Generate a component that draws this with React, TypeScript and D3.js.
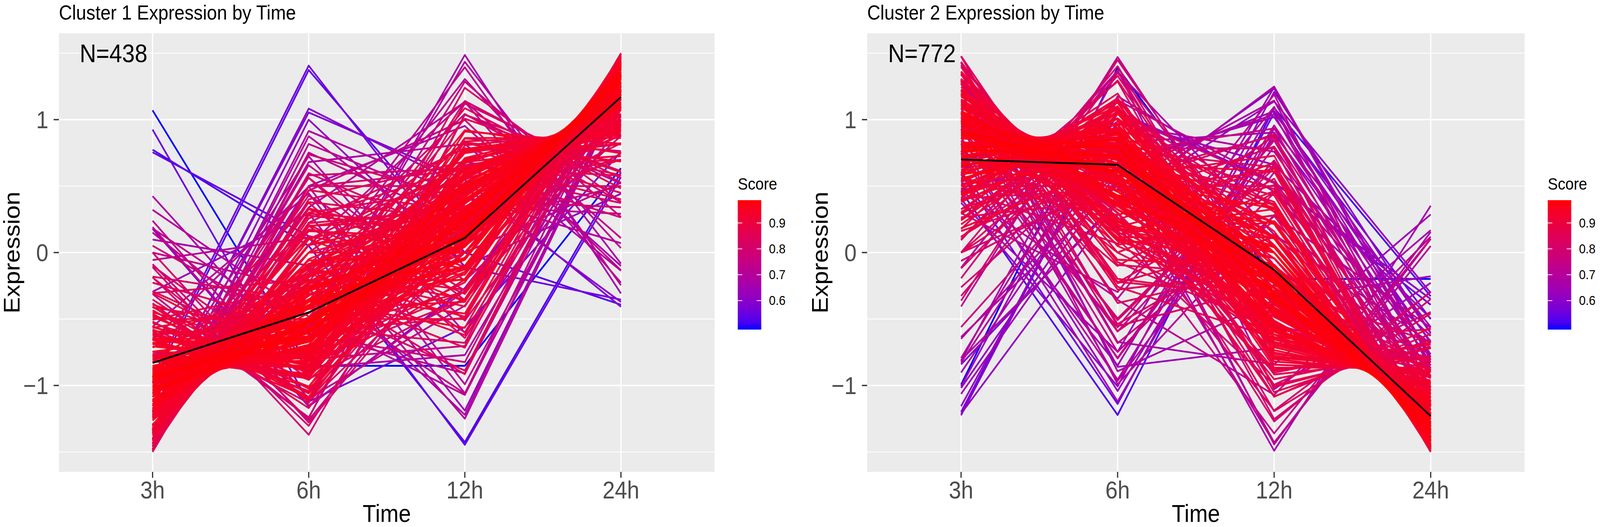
import { useEffect, useRef } from "react";
import * as d3 from "d3";

const WIDTH = 4563;
const HEIGHT = 1348;
const FONT = "'Liberation Sans', Arial, Helvetica, sans-serif";

const times = ["3h", "6h", "12h", "24h"];
const yTicks = [-1, 0, 1];
const yMinorTicks = [-1.5, -0.5, 0.5, 1.5];
const scoreTicks = [0.6, 0.7, 0.8, 0.9];

const titles = ["Cluster 1 Expression by Time", "Cluster 2 Expression by Time"];
const counts = ["N=438", "N=772"];

// cluster 1: expression profiles (3h, 6h, 12h, 24h), standardized per gene before drawing
const profiles1: number[][] = [
  [-1.5, 0.5, 0.5, 0.5], [-1.45, 0.3, 0.2, 0.95], [-1.4, 0.1, 0.4, 0.9], [-1.35, -0.1, 0.3, 1.15],
  [-1.3, 0.35, 0.6, 0.35], [-1.25, -0.3, 0.2, 1.35], [-1.2, -0.6, 0.45, 1.35], [-1.2, 0, 0, 1.2],
  [-1.15, -0.4, 0.15, 1.4], [-1.1, -0.8, 0.4, 1.5], [-1.1, 0.2, -0.3, 1.2], [-1.05, -0.5, 0.5, 1.05],
  [-1, -1, 0.8, 1.2], [-1, -0.3, 0.9, 0.4], [-0.95, -0.2, -0.2, 1.35], [-0.9, -0.7, 0.1, 1.5],
  [-0.9, -0.9, 0.3, 1.5], [-0.85, -0.45, 0.6, 0.7], [-0.8, -0.8, -0.2, 1.8], [-0.8, -1.1, 0.5, 1.4],
  [-0.75, -0.6, -0.1, 1.45], [-0.7, -1.2, 0.6, 1.3], [-0.65, -0.9, 0.1, 1.45], [-0.6, -0.6, -0.3, 1.5],
  [-0.55, -1, 0.3, 1.25], [-0.5, -0.5, -0.5, 1.5], [-0.45, -1.3, 0.5, 1.25], [-0.4, -0.8, -0.3, 1.5],
  [-0.35, -1.1, 0.2, 1.25], [-1.3, -0.7, 0.75, 1.25], [-1.4, -0.5, 0.6, 1.3], [-1.5, -0.2, 0.7, 1],
  [-1.45, 0, 0.85, 0.6], [-1.2, -0.4, 1, 0.6], [-1.1, -0.9, 0.9, 1.1], [-0.9, -1, 1, 0.9],
  [-1, -0.65, 0.25, 1.4], [-0.85, -0.3, 0.35, 0.8], [-1.25, 0.15, 0.1, 1], [-1.35, -0.35, 0.15, 1.55],
  [-0.7, -0.3, -0.45, 1.45], [-0.6, -1.35, 0.35, 1.6], [-1.15, -1, 0.55, 1.6], [-0.95, -0.55, 0.45, 1.05],
  [-1.05, -0.15, 0.4, 0.8], [-1.5, 0.2, 0, 1.3], [-1.48, -0.1, 0.55, 1.03], [-1.42, 0.45, 0.3, 0.67],
  [-1.38, -0.25, 0.35, 1.28], [-1.32, 0.05, 0.6, 0.67], [-1.28, -0.55, 0.3, 1.53], [-1.22, -0.15, 0.75, 0.62],
  [-1.18, -0.75, 0.15, 1.78], [-1.12, -0.35, -0.05, 1.52], [-1.02, -0.85, 0.65, 1.22], [-0.98, 0.1, -0.1, 0.98],
  [-0.88, -0.12, -0.4, 1.4], [-0.82, -0.62, 0.72, 0.72], [-0.78, -1.02, 0.3, 1.5], [-0.72, -0.45, 0.2, 0.97],
  [-0.68, -0.78, -0.04, 1.5], [-0.62, -0.2, -0.6, 1.42], [-0.58, -1.15, 0.1, 1.63], [-0.5, -0.85, 0.05, 1.3],
  [-0.42, -0.6, -0.5, 1.52], [-1.45, -0.6, 0.95, 1.1], [-1.35, -0.85, 0.7, 1.5], [-1.25, -1.05, 0.85, 1.45],
  [-1.15, 0.3, 0.2, 0.65], [-1.05, -1.2, 1.05, 1.2], [-0.92, 0.2, -0.6, 1.32], [-0.8, -0.1, -0.3, 1.2],
  [-0.65, -0.4, -0.35, 1.4], [-1.1, -0.45, -0.25, 1.8], [-1.3, -0.1, -0.2, 1.6],
  [-0.95, -0.52, 0.13, 1.35], [-1.05, -0.4, 0.1, 1.35], [-0.85, -0.65, 0.15, 1.35], [-0.95, -0.35, -0.05, 1.35],
  [-0.95, -0.7, 0.3, 1.35], [-1.1, -0.6, 0.3, 1.4], [-0.8, -0.45, -0.05, 1.3], [-1.2, -0.3, 0.25, 1.25],
  [-0.7, -0.75, 0.2, 1.25], [-1, -0.8, 0.5, 1.3], [-1.3, -0.45, 0.45, 1.3], [-0.6, -0.9, 0, 1.5],
  [-1.4, -0.3, 0.5, 1.2], [-1.25, -0.55, 0.55, 1.25], [-0.75, -0.5, 0.35, 0.9], [-1.15, -0.2, 0.35, 1],
  [-1.05, -0.35, 0.6, 0.8], [-1.35, -0.05, 0.45, 0.95], [-0.65, -1, 0.55, 1.1], [-0.55, -0.75, 0.15, 1.15],
  [-0.9, -0.25, 0.2, 0.95], [-1.45, -0.35, 0.45, 1.35], [-1.5, 0, 0.35, 1.15], [-1.4, 0.2, 0.25, 0.95],
  [-1.25, 0.05, 0.3, 0.9], [-1.1, 0.05, 0.15, 0.9], [-1, -0.05, 0, 1.05], [-0.85, -0.2, 0.05, 1],
  [-0.75, -0.3, 0.1, 0.95], [-1.2, -0.9, 0.65, 1.45], [-0.95, -1.05, 0.55, 1.45], [-0.85, -0.85, 0.45, 1.25],
  [-0.8, -0.6, 0.5, 0.9], [-1.15, -0.7, 0.65, 1.2], [-1.3, -0.6, 0.85, 1.05], [-1, -0.45, 0.8, 0.65],
  [-1.35, -0.3, 0.8, 0.85], [-0.7, -0.85, 0.75, 0.8], [-0.6, -1.1, 0.7, 1], [-0.5, -1.2, 0.4, 1.3],
  [-0.4, -1, 0.1, 1.3], [-0.3, -0.9, -0.2, 1.4], [-0.55, -0.35, -0.55, 1.45], [-0.75, -0.15, -0.45, 1.35],
  [-1, 0.1, -0.35, 1.25], [-1.2, 0.3, -0.1, 1], [-1.45, 0.35, 0.05, 1.05], [-1.38, 0.28, 0.45, 0.65],
  [-1.3, 0.2, 0.7, 0.4], [-0.9, -0.4, -0.1, 1.4], [-1, -0.55, 0.05, 1.5], [-1.1, -0.25, 0.05, 1.3],
  [-0.65, -0.55, 0.05, 1.15], [-0.7, -0.65, -0.15, 1.5], [-1.25, -0.75, 0.35, 1.65], [-1.2, -0.15, 0.45, 0.9],
  [-0.95, -0.75, 0.75, 0.95], [-0.8, -0.95, 0.25, 1.5], [-1.5, -0.45, 0.85, 1.1], [-1.45, 0.1, 0.65, 0.7],
  [-1.45, -1, 0.7, 1.75], [-1.45, -0.7, 0.5, 1.65], [-1.45, -0.4, 0.4, 1.45], [-1.45, -0.1, 0.3, 1.25],
  [-1.45, 0.2, 0.35, 0.9], [-1.3, -1, 0.6, 1.7], [-1.3, -0.7, 0.4, 1.6], [-1.3, -0.4, 0.3, 1.4],
  [-1.3, -0.1, 0.45, 0.95], [-1.3, 0.2, 0.3, 0.8], [-1.15, -1, 0.75, 1.4], [-1.15, -0.7, 0.2, 1.65],
  [-1.15, -0.4, 0.55, 1], [-1.15, -0.1, 0.1, 1.15], [-1.15, 0.2, 0.5, 0.45], [-1, -1, 0.4, 1.6],
  [-1, -0.7, 0.6, 1.1], [-1, -0.4, 0.1, 1.3], [-1, -0.1, 0.5, 0.6], [-1, 0.2, 0.1, 0.7],
  [-0.85, -1, 0.65, 1.2], [-0.85, -0.7, 0.3, 1.25], [-0.85, -0.4, -0.1, 1.35], [-0.85, -0.1, 0.35, 0.6],
  [-0.7, -1, 0.2, 1.5], [-0.7, -0.7, 0.55, 0.85], [-0.7, -0.4, 0, 1.1], [-0.7, -0.1, -0.2, 1],
  [-0.55, -1, 0.45, 1.1], [-0.55, -0.7, -0.1, 1.35], [-0.55, -0.4, 0.2, 0.75], [-0.4, -1, 0.25, 1.15],
  [-0.4, -0.7, -0.2, 1.3], [-0.4, -0.4, 0.1, 0.7], [-1.38, -0.55, 0.2, 1.73], [-1.22, -0.85, 0.5, 1.57],
  [-1.08, -0.55, 0.35, 1.28], [-0.92, -0.55, 0.25, 1.22], [-0.78, -0.25, 0.15, 0.88], [-1.22, -0.25, 0.6, 0.87],
  [-1.08, -0.85, 0.8, 1.13], [-0.92, -0.85, 0.6, 1.17], [-0.62, -0.85, 0.35, 1.12], [-1.38, -0.25, 0.65, 0.98],
  [-1.5, -0.3, 0.25, 1.55], [-1.2, -0.5, -0.05, 1.75], [-0.95, -0.6, -0.15, 1.7], [-0.75, -0.9, 0.05, 1.6],
  [-1.05, -0.75, 0.2, 1.6], [-1.35, -0.2, 0.05, 1.5],
  [-0.25, -0.7, -0.3, 1.25], [-0.15, -0.9, 0, 1.05], [-0.2, -0.5, -0.6, 1.3], [0, -1.1, 0.1, 1],
  [-1.2, 0.4, 0.5, 0.3], [-1, 0.35, 0.75, -0.1], [-1.4, 0.55, 0.6, 0.25], [-0.6, -0.1, 0.85, -0.15],
  [-0.8, -0.9, 1.3, 0.4], [-0.55, -1.2, 1.1, 0.65], [-1.3, 0.65, 0.35, 0.3], [-0.1, -1.25, 0.6, 0.75],
  [-0.3, -0.2, -0.9, 1.4], [-0.9, 0.35, -0.6, 1.15], [-1.2, 0.55, -0.35, 1],
  [-0.2, -1.4, 0.5, 1.1], [-0.1, -1.44, 0.2, 1.34], [0.2, -1.2, -0.3, 1.3], [0.44, -0.9, -0.8, 1.26],
  [0.24, -1.1, -0.4, 1.26], [0.15, -0.8, -0.7, 1.35], [-0.1, -0.95, -0.35, 1.4], [-0.6, -0.55, 1.45, -0.3],
  [-0.75, -0.55, 1.38, -0.08], [-0.9, -0.55, 1.2, 0.25], [-1, -0.2, 1.17, 0.03], [-1.2, 0.05, 1.05, 0.1],
  [-1.35, 0.5, 0.95, -0.1], [-1.2, 0.75, 0, 0.45], [-1.3, 0.97, -0.1, 0.43], [-1.25, 0.7, 0.3, 0.25],
  [-1, 0.5, 0.6, -0.1], [-1.1, 0.3, 1, -0.2], [0.1, -0.1, -1.25, 1.25], [-0.3, 0.3, -1.21, 1.21],
  [-0.2, -0.4, -0.98, 1.58], [-0.6, -0.3, -0.85, 1.75], [-1.4, -0.1, 1.1, 0.4], [-1.1, -0.8, 1.3, 0.6],
  [-0.8, -1, 1.2, 0.6], [-0.4, -1.3, 0.9, 0.8], [0.05, -0.6, -0.8, 1.35], [0.3, -0.45, -1, 1.15],
  [-0.5, 0.4, -0.95, 1.05], [-1.3, 0.45, -0.3, 1.15], [-0.9, 0.6, -0.5, 0.8], [-1.45, 0.6, 0.1, 0.75],
  [-0.3, -1.2, 1, 0.5], [-0.9, -1.1, 0.8, 1.2],
  [1.13, -0.9, -0.9, 0.67], [0.99, -1.2, -0.6, 0.81], [0.77, 0.05, -1.42, 0.6], [0.73, 0.12, -1.4, 0.55],
  [-0.95, 1.33, 0, -0.38], [-0.85, 1.27, -0.1, -0.32], [-1.2, 1.06, 0.55, -0.41], [-1.1, 0.99, 0.45, -0.34],
  [0.2, -1.3, -0.3, 1.4],
  [-1.25, 0.62, -0.2, 0.83], [-1.4, 0.72, 0.2, 0.48], [-1.1, 0.55, -0.5, 1.05], [-0.6, 0.45, -0.9, 1.05],
  [0, -0.25, -0.95, 1.2], [0.18, -0.6, -0.9, 1.32], [-0.05, 0.1, -1.1, 1.05], [-1, 0.65, 0.3, 0.05],
];

const scores1: number[] = [
  0.82, 0.87, 0.9, 0.94, 0.84, 0.97, 0.985, 0.93, 0.975, 0.97, 0.88, 0.97,
  0.93, 0.85, 0.93, 0.97, 0.95, 0.95, 0.92, 0.93, 0.94, 0.9, 0.93, 0.91,
  0.9, 0.88, 0.86, 0.88, 0.86, 0.96, 0.96, 0.92, 0.86, 0.87, 0.93, 0.9,
  0.988, 0.96, 0.9, 0.96, 0.9, 0.88, 0.95, 0.98, 0.93, 0.89, 0.93, 0.85,
  0.95, 0.89, 0.97, 0.9, 0.97, 0.95, 0.96, 0.88, 0.89, 0.93, 0.94, 0.97,
  0.94, 0.86, 0.9, 0.91, 0.87, 0.92, 0.95, 0.92, 0.86, 0.88, 0.84, 0.9,
  0.92, 0.95, 0.92,
  0.985, 0.98, 0.975, 0.97, 0.975, 0.97, 0.96, 0.96, 0.95, 0.96, 0.95, 0.93,
  0.93, 0.96, 0.95, 0.94, 0.92, 0.92, 0.93, 0.95, 0.95, 0.93, 0.9, 0.9,
  0.91, 0.93, 0.95, 0.95, 0.94, 0.93, 0.92, 0.95, 0.94, 0.92, 0.9, 0.93,
  0.89, 0.9, 0.9, 0.93, 0.92, 0.9, 0.91, 0.92, 0.92, 0.9, 0.89, 0.85,
  0.84, 0.97, 0.97, 0.96, 0.96, 0.95, 0.93, 0.93, 0.92, 0.95, 0.88, 0.87,
  0.9, 0.93, 0.95, 0.93, 0.87, 0.9, 0.94, 0.96, 0.91, 0.87,
  0.91, 0.95, 0.94, 0.93, 0.85, 0.93, 0.96, 0.95, 0.88, 0.87,
  0.93, 0.97, 0.92, 0.86, 0.91, 0.92, 0.93, 0.88, 0.9, 0.92,
  0.9, 0.88, 0.89, 0.86, 0.96, 0.95, 0.97, 0.97, 0.9, 0.92,
  0.93, 0.93, 0.91, 0.91, 0.91, 0.94, 0.92, 0.91, 0.95, 0.93,
  0.84, 0.82, 0.83, 0.8, 0.8, 0.74, 0.8, 0.72, 0.82, 0.82, 0.78, 0.8, 0.82, 0.82, 0.8,
  0.8, 0.78, 0.72, 0.68, 0.72, 0.74, 0.8, 0.66,
  0.68, 0.75, 0.72, 0.74, 0.66, 0.7, 0.62, 0.72,
  0.68, 0.7, 0.66, 0.64, 0.82, 0.86, 0.78, 0.8,
  0.8, 0.78, 0.78, 0.7, 0.7, 0.78, 0.68, 0.8,
  0.72, 0.84,
  0.488, 0.55, 0.52, 0.54, 0.53, 0.56, 0.58, 0.6, 0.58,
  0.76, 0.72, 0.78, 0.7, 0.74, 0.72, 0.7, 0.68,
];

const centroid1 = [-0.83, -0.45, 0.11, 1.17];

// cluster 2
const profiles2: number[][] = [
  [0.5, 0.5, 0.5, -1.5], [1.45, 0.2, -0.5, -1.15], [1.4, 0.4, -0.6, -1.2], [1.5, 0.1, -0.3, -1.3],
  [1.45, -0.1, -0.2, -1.15], [1.35, 0.6, -0.75, -1.2], [1.3, 0.85, -0.9, -1.25], [1.2, 1, -0.8, -1.4],
  [1.1, 1.1, -1.1, -1.1], [1, 1.2, -0.7, -1.5], [0.9, 1.3, -0.6, -1.6], [0.7, 1.4, -0.5, -1.6],
  [0.5, 1.45, -0.7, -1.25], [0.3, 1, -0.1, -1.2], [0.1, 0.8, 0.3, -1.2], [0, 0.6, 0.5, -1.1],
  [0.2, 0.3, 0.6, -1.1], [0.4, 0.2, 0.45, -1.05], [0.6, 0, 0.3, -0.9], [0.8, 0.3, 0, -1.1],
  [0.9, 0.6, -0.2, -1.3], [0.75, 0.75, -0.3, -1.2], [0.6, 0.9, -0.35, -1.15], [1, 0.4, -0.2, -1.2],
  [1.1, 0.7, -0.5, -1.3], [0.5, 0.65, 0, -1.15], [0.95, 0.1, 0.1, -1.15], [0.3, 0.55, 0.25, -1.1],
  [1.25, 0.25, -0.1, -1.4], [0.8, 1, -0.4, -1.4], [0.65, 0.45, -0.1, -1], [1.15, 0.5, -0.25, -1.4],
  [0.4, 1.2, -0.4, -1.2], [1.3, 0, -0.55, -0.75], [1.2, 0.55, -1, -0.75], [1, 0.8, -1.15, -0.65],
  [0.8, 0.9, -1, -0.7], [0.6, 0.7, -0.8, -0.5], [1.4, 0.7, -0.95, -1.15], [1, 1.05, -0.55, -1.5],
  [0.2, 0.9, 0, -1.1], [-0.05, 0.45, 0.7, -1.1], [0.35, 0.05, 0.65, -1.05], [0.7, -0.15, 0.3, -0.85],
  [1.1, -0.2, 0.1, -1], [0.55, 1.15, -0.2, -1.5], [0.85, 0.2, -0.6, -0.45], [1.5, 0.3, -0.8, -1],
  [1.25, 0.95, -0.7, -1.5], [0.15, 1.1, -0.35, -0.9], [0.45, 0.35, 0.15, -0.95], [1.05, 0.55, 0.05, -1.65],
  [0.6, 0.25, -0.45, -0.4], [0.95, 0.85, -0.6, -1.2], [0.55, 0.8, 0.05, -1.4], [1.2, 0.2, -0.45, -0.95],
  [0.35, 0.7, -0.15, -0.9], [0.75, 0.4, 0.2, -1.35], [1.3, 0.45, -0.35, -1.4], [0.45, 0.95, -0.55, -0.85],
  [1, -0.05, -0.4, -0.55], [0.85, 1.2, -0.9, -1.15], [0.1, 0.35, 0.45, -0.9], [0.65, 0.1, -0.15, -0.6],
  [0.77, 0.73, -0.14, -1.36], [0.9, 0.65, -0.2, -1.35], [0.65, 0.85, -0.15, -1.35], [0.8, 0.6, 0, -1.4],
  [0.75, 0.85, -0.35, -1.25], [1, 0.6, -0.3, -1.3], [0.55, 0.9, -0.1, -1.35], [1.1, 0.45, -0.2, -1.35],
  [0.6, 0.6, 0.1, -1.3], [0.95, 0.95, -0.5, -1.4], [1.2, 0.75, -0.55, -1.4], [0.45, 1.05, -0.2, -1.3],
  [1.3, 0.35, -0.4, -1.25], [0.35, 0.85, 0.1, -1.3], [1.15, 0.95, -0.7, -1.4], [0.85, 1.1, -0.6, -1.35],
  [0.7, 1.2, -0.45, -1.45], [1.25, 0.6, -0.65, -1.2], [1.4, 0.5, -0.5, -1.4], [1.45, 0.3, -0.4, -1.35],
  [1.35, 0.2, -0.2, -1.35], [1.25, 0.1, -0.1, -1.25], [1.1, 0.2, 0, -1.3], [0.95, 0.35, 0.05, -1.35],
  [1.5, 0.45, -0.65, -1.3], [1.45, 0.65, -0.85, -1.25], [1.35, 0.85, -1, -1.2], [1.2, 0.9, -1, -1.1],
  [1.05, 1, -0.95, -1.1], [0.9, 1.15, -0.85, -1.2], [0.65, 1.3, -0.55, -1.4], [0.5, 1.25, -0.35, -1.4],
  [0.25, 1.15, -0.15, -1.25], [0.2, 0.95, 0.15, -1.3], [0.4, 0.75, 0.2, -1.35], [0.55, 0.5, 0.3, -1.35],
  [0.7, 0.35, 0.35, -1.4], [0.85, 0.15, 0.3, -1.3], [0.6, 0.35, 0, -0.95], [0.8, 0.55, -0.35, -1],
  [1, 0.75, -0.75, -1], [1.15, 0.55, -0.8, -0.9], [0.95, 0.5, -0.6, -0.85], [0.7, 0.75, -0.55, -0.9],
  [0.5, 0.95, -0.6, -0.85], [1.3, 0.65, -0.3, -1.65], [1, 0.85, -0.25, -1.6], [0.75, 1, -0.2, -1.55],
  [0.45, 0.65, 0.2, -1.3], [1.2, 0.4, -0.05, -1.55], [0.3, 0.7, 0.35, -1.35], [0.15, 0.55, 0.5, -1.2],
  [0.45, 0.2, 0.55, -1.2], [0.9, 0.05, 0.2, -1.15], [1.2, -0.05, -0.1, -1.05], [1.4, 0.05, -0.45, -1],
  [1.45, 0.15, -0.7, -0.9], [1.3, 0.3, -0.9, -0.7], [1.05, 0.55, -1.05, -0.55], [0.85, 0.7, -0.9, -0.65],
  [1.45, 1, -0.7, -1.75], [1.45, 0.7, -0.5, -1.65], [1.45, 0.4, -0.4, -1.45], [1.45, 0.1, -0.3, -1.25],
  [1.45, -0.2, -0.35, -0.9], [1.3, 1, -0.6, -1.7], [1.3, 0.7, -0.4, -1.6], [1.3, 0.4, -0.3, -1.4],
  [1.3, 0.1, -0.45, -0.95], [1.3, -0.2, -0.3, -0.8], [1.15, 1, -0.75, -1.4], [1.15, 0.7, -0.2, -1.65],
  [1.15, 0.4, -0.55, -1], [1.15, 0.1, -0.1, -1.15], [1.15, -0.2, -0.5, -0.45], [1, 1, -0.4, -1.6],
  [1, 0.7, -0.6, -1.1], [1, 0.4, -0.1, -1.3], [1, 0.1, -0.5, -0.6], [1, -0.2, -0.1, -0.7],
  [0.85, 1, -0.65, -1.2], [0.85, 0.7, -0.3, -1.25], [0.85, 0.4, 0.1, -1.35], [0.85, 0.1, -0.35, -0.6],
  [0.7, 1, -0.2, -1.5], [0.7, 0.7, -0.55, -0.85], [0.7, 0.4, 0, -1.1], [0.7, 0.1, 0.2, -1],
  [0.55, 1, -0.45, -1.1], [0.55, 0.7, 0.1, -1.35], [0.55, 0.4, -0.2, -0.75], [0.4, 1, -0.25, -1.15],
  [0.4, 0.7, 0.2, -1.3], [0.4, 0.4, -0.1, -0.7], [0.25, 0.85, 0.1, -1.2], [0.25, 0.6, 0.35, -1.2],
  [0.1, 0.7, 0.4, -1.2], [0.1, 1, 0.05, -1.15], [1.38, 0.55, -0.2, -1.73], [1.22, 0.85, -0.5, -1.57],
  [1.08, 0.55, -0.35, -1.28], [0.92, 0.55, -0.25, -1.22], [0.78, 0.25, -0.15, -0.88], [1.22, 0.25, -0.6, -0.87],
  [1.08, 0.85, -0.8, -1.13], [0.92, 0.85, -0.6, -1.17], [0.62, 0.85, -0.35, -1.12], [1.38, 0.25, -0.65, -0.98],
  [1.5, 0.3, -0.25, -1.55], [1.2, 0.5, 0.05, -1.75], [0.95, 0.6, 0.15, -1.7], [0.75, 0.9, -0.05, -1.6],
  [1.05, 0.75, -0.2, -1.6], [1.35, 0.2, -0.05, -1.5], [0.3, 0.35, 0.45, -1.1], [0.6, 0.15, 0.4, -1.15],
  [0, 0.85, 0.25, -1.1], [0.45, 1.2, -0.5, -1.15], [0.95, 1.1, -1, -1.05], [1.25, 0.8, -1.1, -0.95],
  [0.25, 0.6, -0.25, -0.6], [-0.1, 0.9, 0.3, -1.1], [0, 0.4, 0.7, -1.1], [-0.2, 0.6, 0.6, -1],
  [1.1, -0.5, 0.2, -0.8], [1.3, -0.35, -0.1, -0.85], [0.8, -0.4, 0.5, -0.9], [0.6, -0.55, 0.6, -0.65],
  [1, 0.6, -1.3, -0.3], [0.7, 0.9, -1.25, -0.35], [1.35, 0.1, -1, -0.45], [-0.3, 1.2, -0.2, -0.7],
  [0.1, 1.35, -0.4, -1.05], [0.9, -0.1, 0.55, -1.35], [-0.25, 0.8, 0.4, -0.95],
  [-0.6, 0.7, 0.55, -0.65], [-0.77, 0.9, 0.35, -0.48], [-0.4, 1.45, -0.3, -0.75], [0.1, 1.47, -0.6, -0.97],
  [-0.2, 1.4, -0.1, -1.1], [0.6, -0.9, 0.75, -0.45], [0.9, -0.8, 0.5, -0.6], [1, -0.6, 0.7, -1.1],
  [0.5, -0.7, 0.9, -0.7], [0.3, -0.6, 1, -0.7], [0.4, -0.3, 0.95, -1.05], [-0.5, 0.4, 0.9, -0.8],
  [0.65, 0.75, -1.45, 0.05], [0.5, 0.6, -1.44, 0.34], [0.8, 0.5, -1.4, 0.1], [1, 0.2, -1.3, 0.1],
  [1.2, 0.3, -1.2, -0.3], [0.9, 0.9, -1.3, -0.5], [1.1, -0.3, -0.9, 0.1], [0.4, 0.7, -1.2, 0.14],
  [-0.6, 1, 0.1, -0.5], [-0.3, 0.4, 0.5, -0.6], [-0.45, 0.3, 0.45, -0.3], [0.2, -0.5, 0.6, -0.3],
  [1.2, -0.75, -0.3, -0.15], [0.95, -0.5, 0.2, -0.65], [0.15, -0.15, 0.6, -0.6], [0.8, -0.4, -0.5, 0.1],
  [0.3, 1.3, -0.8, -0.8], [-0.1, 1.2, -0.9, -0.2], [0, 1.3, -0.5, -0.8], [-0.5, 0.5, 0.8, -0.8],
  [-0.7, 0.6, 0.3, -0.2], [-0.35, 0.3, 0.2, -0.15],
  [-1, 1.4, -0.2, -0.2], [0.45, -1.19, 1.06, -0.32], [0.6, -1.16, 1.07, -0.51], [-1.13, 1, 0.5, -0.37],
  [-0.75, 0.35, 1.1, -0.7],
  [-0.55, 0.25, 0.85, -0.55], [-0.7, 0.4, 0.7, -0.4], [0.55, -0.7, 0.6, -0.45], [-0.6, 0.55, 0.6, -0.55],
  [0.9, -0.6, -0.5, 0.2], [-0.45, 0.65, 0.3, -0.5], [-0.8, 0.25, 0.75, -0.2],
  [0.8, -0.5, 0.3, -0.6], [0.6, -0.3, 0.4, -0.7], [1, -0.4, 0.1, -0.7], [0.4, -0.5, 0.5, -0.4],
  [0.9, -0.7, 0.2, -0.4], [0.3, -0.2, 0.3, -0.4], [1.2, -0.45, -0.2, -0.55], [0.7, -0.6, 0.6, -0.7],
];

const scores2: number[] = [
  0.82, 0.9, 0.93, 0.9, 0.87, 0.92, 0.93, 0.95, 0.9, 0.95, 0.94, 0.91,
  0.86, 0.91, 0.87, 0.84, 0.83, 0.86, 0.88, 0.96, 0.988, 0.985, 0.96, 0.97,
  0.975, 0.95, 0.93, 0.9, 0.95, 0.97, 0.98, 0.97, 0.9, 0.84, 0.86, 0.84,
  0.86, 0.84, 0.9, 0.95, 0.88, 0.8, 0.82, 0.85, 0.87, 0.94, 0.85, 0.88,
  0.94, 0.84, 0.93, 0.96, 0.87, 0.98, 0.96, 0.92, 0.94, 0.96, 0.95, 0.92,
  0.84, 0.92, 0.86, 0.92,
  0.985, 0.98, 0.98, 0.975, 0.975, 0.97, 0.97, 0.97, 0.96, 0.96, 0.95, 0.95,
  0.94, 0.93, 0.94, 0.95, 0.93, 0.94, 0.92, 0.91, 0.92, 0.92, 0.94, 0.95,
  0.9, 0.91, 0.92, 0.92, 0.93, 0.93, 0.93, 0.92, 0.9, 0.91, 0.94, 0.95,
  0.94, 0.92, 0.95, 0.96, 0.94, 0.92, 0.94, 0.95, 0.92, 0.94, 0.95, 0.93,
  0.91, 0.89, 0.88, 0.92, 0.88, 0.9, 0.92, 0.92, 0.9, 0.88, 0.87, 0.86,
  0.9, 0.93, 0.95, 0.92, 0.86, 0.91, 0.94, 0.96, 0.9, 0.86,
  0.92, 0.95, 0.94, 0.93, 0.84, 0.93, 0.96, 0.96, 0.87, 0.86,
  0.94, 0.97, 0.93, 0.86, 0.91, 0.93, 0.94, 0.89, 0.91, 0.93,
  0.9, 0.9, 0.9, 0.87, 0.89, 0.87, 0.86, 0.87, 0.95, 0.95,
  0.97, 0.97, 0.91, 0.9, 0.93, 0.94, 0.92, 0.9, 0.9, 0.93,
  0.93, 0.92, 0.95, 0.92, 0.85, 0.86, 0.84, 0.88, 0.88, 0.86,
  0.84, 0.82, 0.8, 0.78, 0.8, 0.84, 0.8, 0.74, 0.8, 0.8, 0.8, 0.8, 0.82, 0.86, 0.78,
  0.7, 0.65, 0.72, 0.75, 0.78, 0.66, 0.7, 0.74,
  0.65, 0.64, 0.7, 0.68, 0.7, 0.66, 0.72, 0.74,
  0.8, 0.82, 0.72, 0.68, 0.66, 0.76, 0.62, 0.62,
  0.66, 0.76, 0.72, 0.66, 0.82, 0.66, 0.8, 0.7,
  0.6, 0.62,
  0.488, 0.52, 0.55, 0.56, 0.58,
  0.68, 0.64, 0.62, 0.66, 0.64, 0.7, 0.62,
  0.74, 0.78, 0.8, 0.7, 0.7, 0.76, 0.8, 0.72,
];

const centroid2 = [0.7, 0.66, -0.13, -1.23];

const panels = [
  { x0: 168, x1: 2038, title: titles[0], count: counts[0], profiles: profiles1, scores: scores1, centroid: centroid1 },
  { x0: 2473, x1: 4348, title: titles[1], count: counts[1], profiles: profiles2, scores: scores2, centroid: centroid2 },
];

const PANEL_TOP = 85;
const PANEL_BOTTOM = 1207;
const BAR_TOP = 512;
const BAR_BOTTOM = 843;

function standardize(v: number[]): number[] {
  const m = d3.mean(v) ?? 0;
  const sd = d3.deviation(v) ?? 1;
  return v.map((x) => (x - m) / sd);
}

export default function App() {
  const svgRef = useRef<SVGSVGElement>(null);

  useEffect(() => {
    document.body.style.margin = "0";
    const svg = d3.select(svgRef.current);
    svg.selectAll("*").remove();

    svg.append("rect").attr("width", WIDTH).attr("height", HEIGHT).attr("fill", "#ffffff");
    const defs = svg.append("defs");

    const yScale = d3.scaleLinear().domain([-1.65, 1.65]).range([PANEL_BOTTOM, PANEL_TOP]);

    panels.forEach((p, pi) => {
      const xScale = d3.scalePoint<string>().domain(times).range([p.x0, p.x1]).padding(0.6);
      const step = xScale.step();
      const extent = d3.extent(p.scores) as [number, number];
      const color = d3.scaleLinear<string>().domain(extent).range(["blue", "red"]).interpolate(d3.interpolateLab);

      const g = svg.append("g");

      // panel background and grid
      g.append("rect")
        .attr("x", p.x0).attr("y", PANEL_TOP)
        .attr("width", p.x1 - p.x0).attr("height", PANEL_BOTTOM - PANEL_TOP)
        .attr("fill", "#EBEBEB");

      yMinorTicks.forEach((t) => {
        g.append("line")
          .attr("x1", p.x0).attr("x2", p.x1)
          .attr("y1", yScale(t)).attr("y2", yScale(t))
          .attr("stroke", "#ffffff").attr("stroke-width", 2.2);
      });
      yTicks.forEach((t) => {
        g.append("line")
          .attr("x1", p.x0).attr("x2", p.x1)
          .attr("y1", yScale(t)).attr("y2", yScale(t))
          .attr("stroke", "#ffffff").attr("stroke-width", 3.6);
      });
      times.forEach((t) => {
        g.append("line")
          .attr("x1", xScale(t)!).attr("x2", xScale(t)!)
          .attr("y1", PANEL_TOP).attr("y2", PANEL_BOTTOM)
          .attr("stroke", "#ffffff").attr("stroke-width", 3.6);
      });

      // gene lines, low score first so the red ones sit on top
      const line = d3.line<number>()
        .x((_, i) => xScale(times[i])!)
        .y((v) => yScale(v));

      const order = d3.range(Math.min(p.profiles.length, p.scores.length))
        .sort((a, b) => p.scores[a] - p.scores[b]);
      order.forEach((i) => {
        g.append("path")
          .attr("d", line(standardize(p.profiles[i])))
          .attr("fill", "none")
          .attr("stroke", color(p.scores[i]))
          .attr("stroke-width", 4.6)
          .attr("stroke-linejoin", "round");
      });

      g.append("path")
        .attr("d", line(p.centroid))
        .attr("fill", "none")
        .attr("stroke", "#000000")
        .attr("stroke-width", 4.6)
        .attr("stroke-linejoin", "round");

      // N label
      g.append("text")
        .attr("x", xScale(times[0])! - 0.25 * step)
        .attr("y", yScale(1.5))
        .attr("text-anchor", "middle")
        .attr("dominant-baseline", "central")
        .attr("font-family", FONT)
        .attr("font-size", 65)
        .attr("fill", "#000000")
        .text(p.count);

      // axes
      yTicks.forEach((t) => {
        g.append("line")
          .attr("x1", p.x0 - 15).attr("x2", p.x0)
          .attr("y1", yScale(t)).attr("y2", yScale(t))
          .attr("stroke", "#333333").attr("stroke-width", 3.4);
        g.append("text")
          .attr("x", p.x0 - 30)
          .attr("y", yScale(t))
          .attr("text-anchor", "end")
          .attr("dominant-baseline", "central")
          .attr("font-family", FONT)
          .attr("font-size", 63)
          .attr("fill", "#4D4D4D")
          .text(t < 0 ? `\u2212${Math.abs(t)}` : `${t}`);
      });
      times.forEach((t) => {
        g.append("line")
          .attr("x1", xScale(t)!).attr("x2", xScale(t)!)
          .attr("y1", PANEL_BOTTOM).attr("y2", PANEL_BOTTOM + 15)
          .attr("stroke", "#333333").attr("stroke-width", 3.4);
        g.append("text")
          .attr("x", xScale(t)!)
          .attr("y", 1275)
          .attr("text-anchor", "middle")
          .attr("font-family", FONT)
          .attr("font-size", 63)
          .attr("fill", "#4D4D4D")
          .text(t);
      });

      g.append("text")
        .attr("x", (p.x0 + p.x1) / 2)
        .attr("y", 1335)
        .attr("text-anchor", "middle")
        .attr("font-family", FONT)
        .attr("font-size", 63)
        .attr("fill", "#000000")
        .text("Time");

      g.append("text")
        .attr("transform", `translate(${p.x0 - 112},${(PANEL_TOP + PANEL_BOTTOM) / 2}) rotate(-90)`)
        .attr("text-anchor", "middle")
        .attr("font-family", FONT)
        .attr("font-size", 63)
        .attr("fill", "#000000")
        .text("Expression");

      g.append("text")
        .attr("x", p.x0)
        .attr("y", 50)
        .attr("font-family", FONT)
        .attr("font-size", 52)
        .attr("fill", "#000000")
        .text(p.title);

      // colour bar legend
      const barX = p.x1 + 66;
      const barW = 67;
      const barScale = d3.scaleLinear().domain(extent).range([BAR_BOTTOM, BAR_TOP]);
      const gradId = `score-grad-${pi}`;
      const grad = defs.append("linearGradient")
        .attr("id", gradId)
        .attr("x1", 0).attr("y1", 1).attr("x2", 0).attr("y2", 0);
      d3.range(0, 1.0001, 0.05).forEach((f) => {
        grad.append("stop")
          .attr("offset", f)
          .attr("stop-color", color(extent[0] + f * (extent[1] - extent[0])));
      });

      g.append("text")
        .attr("x", barX)
        .attr("y", 485)
        .attr("font-family", FONT)
        .attr("font-size", 43)
        .attr("fill", "#000000")
        .text("Score");

      g.append("rect")
        .attr("x", barX).attr("y", BAR_TOP)
        .attr("width", barW).attr("height", BAR_BOTTOM - BAR_TOP)
        .attr("fill", `url(#${gradId})`);

      scoreTicks.forEach((t) => {
        const y = barScale(t);
        [[barX, barX + 13], [barX + barW - 13, barX + barW]].forEach(([a, b]) => {
          g.append("line")
            .attr("x1", a).attr("x2", b)
            .attr("y1", y).attr("y2", y)
            .attr("stroke", "#ffffff").attr("stroke-width", 2);
        });
        g.append("text")
          .attr("x", barX + barW + 22)
          .attr("y", y)
          .attr("dominant-baseline", "central")
          .attr("font-family", FONT)
          .attr("font-size", 34)
          .attr("fill", "#000000")
          .text(t.toFixed(1));
      });
    });
  }, []);

  return (
    <div style={{ position: "absolute", left: 0, top: 0, width: "100vw", height: "100vh" }}>
      <svg
        ref={svgRef}
        viewBox={`0 0 ${WIDTH} ${HEIGHT}`}
        preserveAspectRatio="none"
        style={{ display: "block", width: "100vw", height: "100vh" }}
      />
    </div>
  );
}
